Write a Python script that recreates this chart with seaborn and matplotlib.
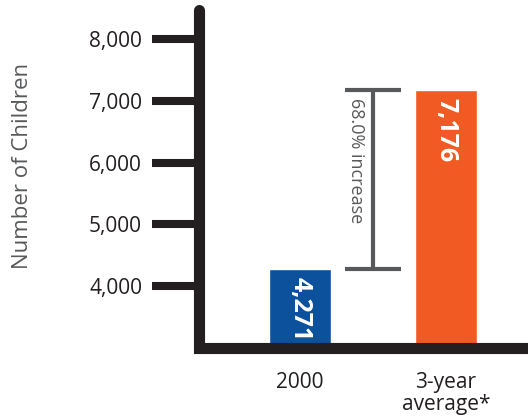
import matplotlib
matplotlib.use("Agg")
import matplotlib.pyplot as plt
import seaborn as sns
import pandas as pd

categories = ["2000", "3-year\naverage*"]
values = [4271, 7176]
bar_colors = ["#0b519b", "#f15a22"]
y_ticks = [4000, 5000, 6000, 7000, 8000]
increase_label = "68.0% increase"

sns.set_style("white")
plt.rcParams["font.family"] = ["Open Sans", "DejaVu Sans"]

INK = "#231f20"
GREY = "#58595b"

df = pd.DataFrame({"cat": categories, "val": values})

fig = plt.figure(figsize=(5.28, 4.18), dpi=100)
ax = fig.add_axes([199 / 528, (418 - 348) / 418, (528 - 199) / 528, (348 - 10) / 418])

sns.barplot(data=df, x="cat", y="val", hue="cat", palette=bar_colors,
            width=0.425, legend=False, ax=ax, saturation=1)

ax.set_ylim(3000, 8468)
ax.set_xlim(-0.692, 1.562)
for s in ax.spines.values():
    s.set_visible(False)

# thick axis lines with rounded ends
ax.plot([0, 0, 1.0], [1.0, 0, 0], transform=ax.transAxes, color=INK, lw=8,
        solid_capstyle="round", solid_joinstyle="miter", clip_on=False, zorder=5)

ax.set_yticks(y_ticks)
ax.set_yticklabels([f"{t:,}" for t in y_ticks])
ax.tick_params(axis="y", length=34, width=5.8, color=INK, pad=7,
               labelsize=15, labelcolor=INK, left=True)
ax.tick_params(axis="x", length=0, pad=17, labelsize=15, labelcolor=INK)
for lbl in ax.get_xticklabels():
    lbl.set_linespacing(1.1)
ax.set_xlabel("")
ax.set_ylabel("Number of Children", fontsize=16, color=GREY)
ax.yaxis.set_label_coords(-0.505, 0.54)

# increase bracket
mid = (values[0] + values[1]) / 2
half = (values[1] - values[0]) / 2
ax.errorbar(0.5, mid, yerr=half, color=GREY, lw=3, capsize=20, capthick=3, fmt="none")
ax.text(0.385, values[1] - 130, increase_label, rotation=-90, ha="center", va="top",
        fontsize=13, color=GREY)

# value labels inside bars
for i, v in enumerate(values):
    ax.text(i, v - 130, f"{v:,}", rotation=-90, ha="center", va="top",
            fontsize=18, fontweight="bold", color="white")

plt.savefig("out.png", dpi=100)
plt.close()
